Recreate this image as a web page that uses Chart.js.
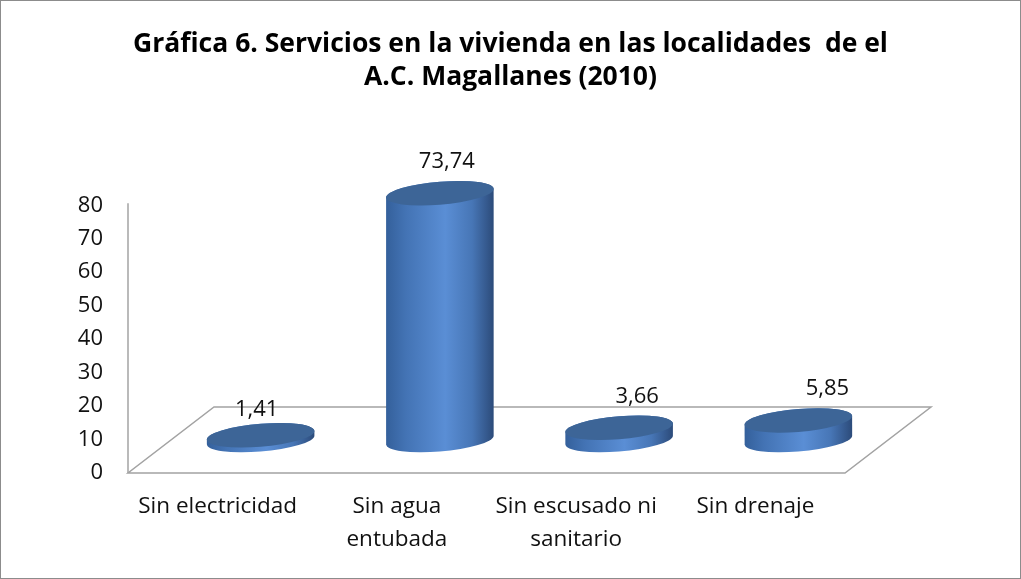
<!DOCTYPE html>
<html>
<head>
<meta charset="utf-8">
<script src="https://cdn.jsdelivr.net/npm/chart.js@4"></script>
<style>
  html, body { margin:0; padding:0; background:#fff; }
  #wrap { width:1021px; height:579px; position:relative; }
  #wrap:after { content:''; position:absolute; inset:0; border:1px solid #8c8c8c; pointer-events:none; }
</style>
</head>
<body>
<div id="wrap"><canvas id="chart" width="1021" height="579"></canvas></div>
<script>
// ─── DATA ─────────────────────────────────────────────────────────────────────
const categories = [['Sin electricidad'], ['Sin agua', 'entubada'], ['Sin escusado ni', 'sanitario'], ['Sin drenaje']];
const values = [1.41, 73.74, 3.66, 5.85];
const valueLabels = ['1,41', '73,74', '3,66', '5,85'];
const titleLines = ['Gráfica 6. Servicios en la vivienda en las localidades  de el', 'A.C. Magallanes (2010)'];
const yMin = 0, yMax = 80, yStep = 10;

// ─── 3D LOOK ──────────────────────────────────────────────────────────────────
const DEPTH_X = 86, DEPTH_Y = -66;   // floor depth offset
const TILT = -0.08;                  // ellipse shear
const FONT = '"Open Sans", Lato, sans-serif';

const floorPlugin = {
  id: 'floor3d',
  beforeDatasetsDraw(chart) {
    const { ctx, chartArea: a } = chart;
    ctx.save();
    ctx.strokeStyle = '#a3a3a3';
    ctx.lineWidth = 1.5;
    // value axis
    ctx.beginPath();
    ctx.moveTo(a.left, a.top - 2);
    ctx.lineTo(a.left, a.bottom);
    ctx.stroke();
    // floor
    ctx.beginPath();
    ctx.moveTo(a.left, a.bottom);
    ctx.lineTo(a.right, a.bottom);
    ctx.lineTo(a.right + DEPTH_X, a.bottom + DEPTH_Y);
    ctx.lineTo(a.left + DEPTH_X, a.bottom + DEPTH_Y);
    ctx.closePath();
    ctx.stroke();
    ctx.restore();
  }
};

const cylinderPlugin = {
  id: 'cylinders',
  afterDatasetsDraw(chart) {
    const { ctx } = chart;
    const meta = chart.getDatasetMeta(0);
    meta.data.forEach((el, i) => {
      const cx = el.x + DEPTH_X / 2;
      const baseY = el.base + DEPTH_Y / 2;
      const h = el.base - el.y;
      const rx = el.width / 2, ry = 11.5;
      ctx.save();
      ctx.translate(cx, baseY);
      ctx.transform(1, TILT, 0, 1, 0, 0);
      // side
      const g = ctx.createLinearGradient(-rx, 0, rx, 0);
      g.addColorStop(0, '#34609b');
      g.addColorStop(0.18, '#4373b4');
      g.addColorStop(0.55, '#5a8ed5');
      g.addColorStop(0.8, '#4776b6');
      g.addColorStop(1, '#2c4b7a');
      ctx.beginPath();
      ctx.moveTo(-rx, -h);
      ctx.lineTo(-rx, 0);
      ctx.ellipse(0, 0, rx, ry, 0, Math.PI, 0, true);
      ctx.lineTo(rx, -h);
      ctx.ellipse(0, -h, rx, ry, 0, 0, Math.PI, true);
      ctx.closePath();
      ctx.fillStyle = g;
      ctx.fill();
      // top
      ctx.beginPath();
      ctx.ellipse(0, -h, rx, ry, 0, 0, Math.PI * 2);
      ctx.fillStyle = '#3d6597';
      ctx.fill();
      ctx.restore();
      // label
      ctx.save();
      ctx.font = '22px ' + FONT;
      ctx.fillStyle = '#111';
      ctx.textAlign = 'center';
      ctx.textBaseline = 'middle';
      ctx.fillText(valueLabels[i], cx - 4 + i * 11, baseY - h - ry - 20 + (i === 0 ? 6 : 0));
      ctx.restore();
    });
  }
};

new Chart(document.getElementById('chart').getContext('2d'), {
  type: 'bar',
  data: {
    labels: categories,
    datasets: [{ data: values, backgroundColor: 'rgba(0,0,0,0)', barPercentage: 0.6, categoryPercentage: 1 }]
  },
  options: {
    responsive: false, animation: false,
    layout: { padding: 0 },
    plugins: {
      legend: { display: false },
      tooltip: { enabled: false },
      title: {
        display: true, text: titleLines, color: '#000',
        font: { family: FONT, size: 26.5, weight: 'bold', lineHeight: 1.25 },
        padding: { top: 28, bottom: 111 }
      }
    },
    scales: {
      x: {
        grid: { display: false, drawTicks: false }, border: { display: false },
        ticks: { color: '#111', font: { family: FONT, size: 22.5, lineHeight: 1.47 }, padding: 17, maxRotation: 0, autoSkip: false },
        afterFit: s => { s.height = 106; }
      },
      y: {
        min: yMin, max: yMax,
        grid: { display: false, drawTicks: false }, border: { display: false },
        ticks: { stepSize: yStep, color: '#111', font: { family: FONT, size: 22 }, padding: 25 },
        afterFit: s => { s.width = 128; }
      },
      // blank right margin so the title centres on the whole canvas
      yRight: {
        position: 'right', min: yMin, max: yMax,
        grid: { display: false, drawTicks: false }, border: { display: false },
        ticks: { display: false },
        afterFit: s => { s.width = 176; }
      }
    }
  },
  plugins: [floorPlugin, cylinderPlugin]
});
</script>
</body>
</html>
